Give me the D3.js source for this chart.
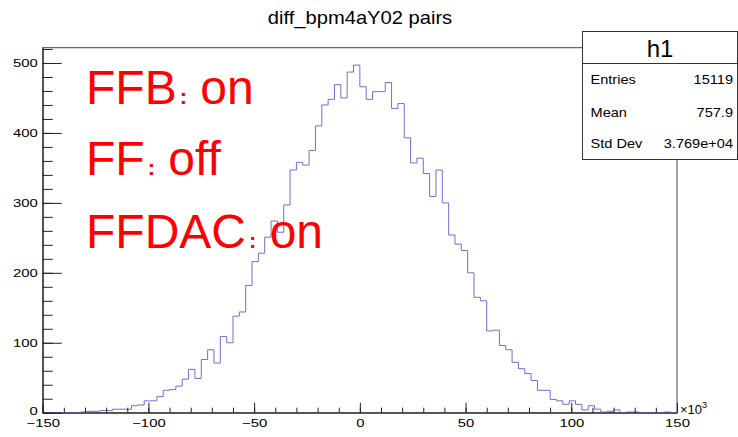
<!DOCTYPE html>
<html>
<head>
<meta charset="utf-8">
<script src="https://cdn.jsdelivr.net/npm/d3@7/dist/d3.min.js"></script>
<style>
  body { margin: 0; background: #fff; }
  text { font-family: "Liberation Sans", Arial, Helvetica, sans-serif; }
</style>
</head>
<body>
<div id="chart"></div>
<script>
// histogram h1: 100 bins from -150 to 150 (x10^3)
const xLow = -150, xHigh = 150, binWidth = 3;
const counts = [
  0, 0, 0, 0, 0, 0, 1, 2, 2, 3,
  3, 5, 5, 5, 10, 11, 17, 17, 23, 32,
  33, 38, 48, 62, 49, 76, 90, 71, 109, 100,
  138, 144, 182, 216, 228, 251, 274, 258, 297, 347,
  358, 354, 375, 410, 440, 448, 469, 450, 487, 497,
  466, 448, 459, 459, 472, 435, 442, 393, 357, 364,
  342, 309, 347, 300, 254, 241, 232, 200, 165, 160,
  117, 118, 96, 90, 72, 63, 56, 46, 32, 32,
  19, 17, 12, 17, 12, 4, 10, 5, 1, 2,
  4, 0, 1, 1, 0, 0, 0, 0, 1, 0
];
const xMajor = [-150, -100, -50, 0, 50, 100, 150];
const yMajor = [0, 100, 200, 300, 400, 500];
const title = "diff_bpm4aY02 pairs";
const statNames = ["Entries", "Mean", "Std Dev"];
const statValues = ["15119", "757.9", "3.769e+04"];
const notes = [["FFB", "on"], ["FF", "off"], ["FFDAC", "on"]];

const width = 738, height = 437;
const frame = {left: 42.7, right: 677, top: 47.7, bottom: 412.7};

const svg = d3.select("#chart").append("svg")
    .attr("width", width)
    .attr("height", height);

var x = d3.scaleLinear()
  .domain([xLow, xHigh])
  .range([frame.left, frame.right]);

var y = d3.scaleLinear()
  .domain([0, d3.max(counts) * 1.05])
  .range([frame.bottom, frame.top]);

// stretch text horizontally (the reference glyphs are wide)
function stretch(sel, k) {
  sel.each(function() {
    var w = this.getComputedTextLength();
    d3.select(this).attr("textLength", w * k).attr("lengthAdjust", "spacingAndGlyphs");
  });
}

// frame
svg.append("rect")
    .attr("x", frame.left)
    .attr("y", frame.top)
    .attr("width", frame.right - frame.left)
    .attr("height", frame.bottom - frame.top)
    .attr("fill", "none")
    .attr("stroke", "#444")
    .attr("stroke-width", 1);

// histogram outline
var pts = [[xLow, 0]];
counts.forEach(function(c, i) {
  var lo = xLow + i * binWidth;
  pts.push([lo, c], [lo + binWidth, c]);
});
pts.push([xHigh, 0]);

var line = d3.line()
  .x(function(d) { return x(d[0]); })
  .y(function(d) { return y(d[1]); });

svg.append("path")
    .attr("d", line(pts))
    .attr("fill", "none")
    .attr("stroke", "#6f6fd2")
    .attr("stroke-width", 1);

// axes
var gx = svg.append("g")
    .attr("transform", "translate(0," + frame.bottom + ")");
gx.append("g")
    .call(d3.axisBottom(x).tickValues(d3.range(-150, 151, 10)).tickSize(-5).tickFormat(""))
    .call(g => g.select(".domain").remove());
gx.append("g")
    .attr("class", "xmaj")
    .call(d3.axisBottom(x).tickValues(xMajor).tickSize(-10).tickPadding(7).tickSizeOuter(0));

var gy = svg.append("g")
    .attr("transform", "translate(" + frame.left + ",0)");
gy.append("g")
    .call(d3.axisLeft(y).tickValues(d3.range(0, 521, 20)).tickSize(-10).tickFormat(""))
    .call(g => g.select(".domain").remove());
gy.append("g")
    .attr("class", "ymaj")
    .call(d3.axisLeft(y).tickValues(yMajor).tickSize(-19).tickPadding(5).tickSizeOuter(0));

svg.selectAll(".tick line").attr("stroke", "#222");
svg.selectAll(".domain").attr("stroke", "#222");
svg.selectAll(".xmaj text, .ymaj text")
    .attr("font-size", 11)
    .attr("font-family", "'Liberation Sans', Arial, sans-serif")
    .attr("fill", "#000");
// lift the y "0" a little so it clears the x labels
svg.selectAll(".ymaj text").filter(function(d) { return d === 0; }).attr("dy", "0.2em");
stretch(svg.selectAll(".xmaj text, .ymaj text"), 1.35);

// x10^3 exponent
var expo = svg.append("text")
    .attr("x", frame.right + 3)
    .attr("y", frame.bottom + 1)
    .attr("font-size", 13)
    .attr("fill", "#000");
expo.append("tspan").text("\u00d710");
expo.append("tspan").attr("font-size", 9).attr("dy", -6).text("3");

// title
svg.append("text")
    .attr("x", 360)
    .attr("y", 24)
    .attr("text-anchor", "middle")
    .attr("font-size", 19)
    .attr("fill", "#000")
    .text(title)
    .call(stretch, 1.06);

// stats box
var box = {x: 582.5, y: 31.5, w: 155, h: 128};
var stats = svg.append("g");
stats.append("rect")
    .attr("x", box.x).attr("y", box.y)
    .attr("width", box.w).attr("height", box.h)
    .attr("fill", "#fff")
    .attr("stroke", "#333");
stats.append("line")
    .attr("x1", box.x).attr("x2", box.x + box.w)
    .attr("y1", 63.5).attr("y2", 63.5)
    .attr("stroke", "#333");
stats.append("text")
    .attr("x", 660).attr("y", 57)
    .attr("text-anchor", "middle")
    .attr("font-size", 24)
    .text("h1");
var rowY = [84.3, 117.3, 148.3];
statNames.forEach(function(n, i) {
  stats.append("text")
      .attr("x", 590.5).attr("y", rowY[i])
      .attr("font-size", 13)
      .text(n)
      .call(stretch, 1.12);
  stats.append("text")
      .attr("x", 733).attr("y", rowY[i])
      .attr("text-anchor", "end")
      .attr("font-size", 13)
      .text(statValues[i])
      .call(stretch, 1.12);
});

// red annotations
var noteY = [104, 175, 248];
notes.forEach(function(n, i) {
  var t = svg.append("text")
      .attr("x", 86).attr("y", noteY[i])
      .attr("font-size", 48)
      .attr("fill", "#ff0000");
  t.append("tspan").text(n[0]);
  t.append("tspan").attr("font-size", 22).attr("font-weight", "bold").attr("dx", 3).text(":");
  t.append("tspan").text(" " + n[1]);
});
</script>
</body>
</html>
